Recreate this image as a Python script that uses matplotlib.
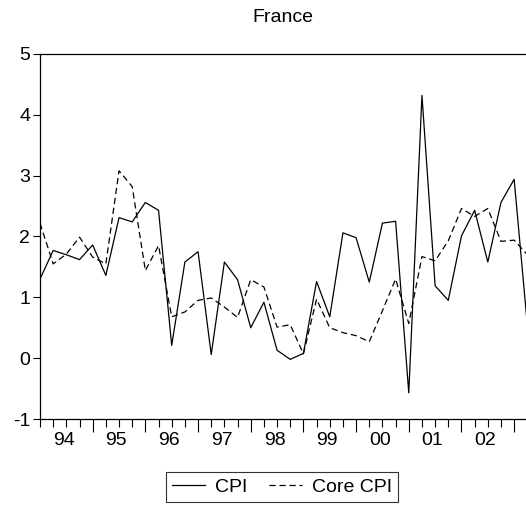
import numpy as np
import matplotlib
matplotlib.use('Agg')
import matplotlib.pyplot as plt

plt.rcParams['font.family'] = ['Liberation Sans', 'DejaVu Sans']
plt.rcParams['axes.unicode_minus'] = False

# quarterly data, 1994Q1 - 2003Q2
years = ['94', '95', '96', '97', '98', '99', '00', '01', '02']
cpi = [1.30, 1.77, 1.70, 1.62, 1.86, 1.36, 2.31, 2.24,
       2.56, 2.43, 0.21, 1.58, 1.75, 0.06, 1.58, 1.29,
       0.50, 0.92, 0.13, -0.02, 0.08, 1.26, 0.68, 2.06,
       1.98, 1.25, 2.22, 2.25, -0.57, 4.32, 1.19, 0.95,
       2.01, 2.43, 1.58, 2.56, 2.94, 0.55]
core_cpi = [2.22, 1.55, 1.71, 1.99, 1.66, 1.55, 3.08, 2.82,
            1.44, 1.85, 0.68, 0.76, 0.95, 0.99, 0.84, 0.67,
            1.29, 1.17, 0.51, 0.55, 0.07, 0.97, 0.50, 0.42,
            0.37, 0.27, 0.78, 1.30, 0.57, 1.67, 1.60, 1.93,
            2.46, 2.33, 2.46, 1.92, 1.94, 1.70]

t = np.arange(len(cpi))
fs = 14

fig = plt.figure(figsize=(5.26, 5.05), dpi=100)
ax = fig.add_axes([40/526, 1 - 419/505, 1 - 40/526, (419 - 54)/505])

ax.plot(t, cpi, 'k-', lw=0.9, label='CPI')
ax.plot(t, core_cpi, 'k--', lw=0.9, dashes=(5, 3), label='Core CPI')

ax.set_xlim(0, 36.9)
ax.set_ylim(-1, 5)
ax.set_yticks(range(-1, 6))
ax.tick_params(axis='y', labelsize=fs, length=5, width=0.8, pad=2)

# quarter ticks, long tick at each new year, year label in the middle
ax.set_xticks(np.arange(0, 37), minor=True)
ax.set_xticks(np.arange(4, 37, 4))
ax.set_xticklabels([])
ax.tick_params(axis='x', which='minor', length=5.5, width=0.8)
ax.tick_params(axis='x', which='major', length=9, width=0.8)
for i, yr in enumerate(years):
    ax.text(i*4 + 1.8, -1.22, yr, ha='center', va='top', fontsize=fs)

ax.spines['right'].set_visible(False)
for s in ['left', 'top', 'bottom']:
    ax.spines[s].set_linewidth(0.9)

fig.text(283/526, 1 - 17/505, 'France', ha='center', va='center', fontsize=fs)

leg = fig.legend(loc='center', bbox_to_anchor=(282/526, 1 - 487/505), ncol=2,
                 fontsize=fs, frameon=True, fancybox=False, edgecolor='black',
                 handlelength=1.7, handletextpad=0.5, columnspacing=1.1,
                 borderpad=0.3)
leg.get_frame().set_linewidth(0.8)

fig.savefig('out.png', dpi=100)
